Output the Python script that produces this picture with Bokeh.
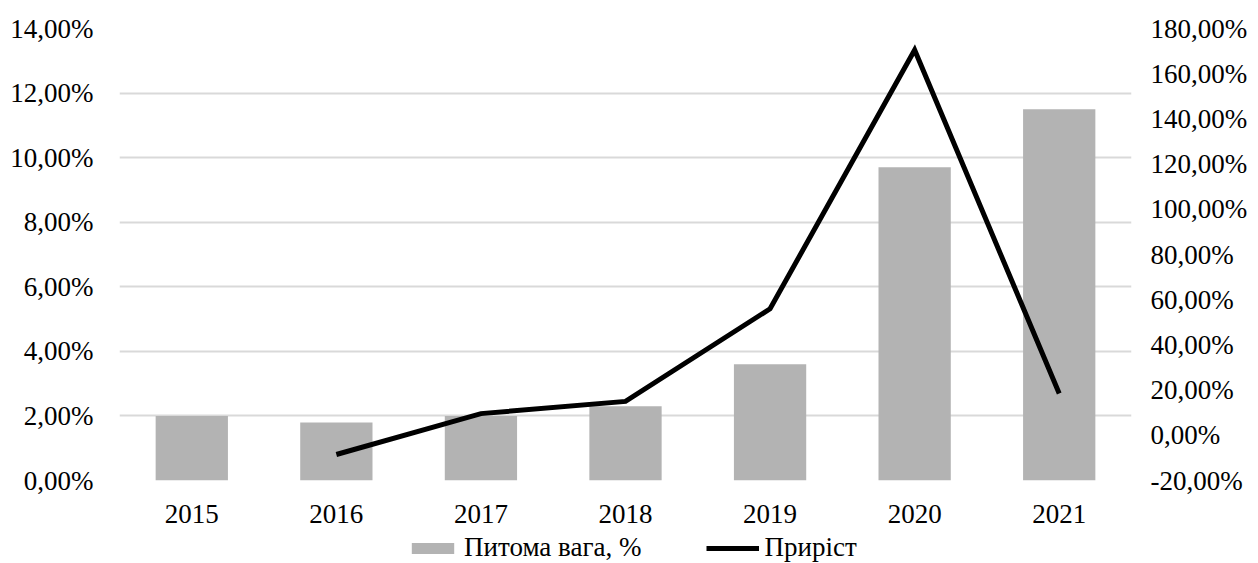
from bokeh.plotting import figure
from bokeh.layouts import column
from bokeh.models import (Range1d, LinearAxis, FixedTicker,
                          CustomJSTickFormatter, Legend, LegendItem, FactorRange)
from bokeh.embed import file_html
from bokeh.resources import INLINE

years = ["2015", "2016", "2017", "2018", "2019", "2020", "2021"]
share = [2.0, 1.8, 2.0, 2.3, 3.6, 9.7, 11.5]          # Питома вага, %
growth_years = ["2016", "2017", "2018", "2019", "2020", "2021"]
growth = [-8.5, 9.6, 15.0, 56.0, 170.5, 18.5]          # Приріст, %

left_ticks = [0, 2, 4, 6, 8, 10, 12, 14]
right_ticks = [-20, 0, 20, 40, 60, 80, 100, 120, 140, 160, 180]
series_names = ["Питома вага, %", "Приріст"]

FONT = "Liberation Serif"
FS = "27px"
BAR_COLOR = "#b3b3b3"

p = figure(x_range=FactorRange(*years), y_range=Range1d(0, 14),
           width=1250, height=530, output_backend="svg", toolbar_location=None,
           min_border_left=119, min_border_right=116, min_border_top=28,
           min_border_bottom=50)
p.extra_y_ranges = {"r": Range1d(-20, 180)}
p.outline_line_color = None

fmt = CustomJSTickFormatter(code="return tick.toFixed(2).replace('.', ',') + '%';")

p.vbar(x=years, top=share, width=0.5, fill_color=BAR_COLOR, line_color=None)
p.line(x=growth_years, y=growth, y_range_name="r", line_color="black",
       line_width=5, line_join="miter")

# Axes
p.yaxis.ticker = FixedTicker(ticks=left_ticks)
p.yaxis.formatter = fmt
p.yaxis.axis_line_color = None
p.yaxis.major_tick_line_color = None
p.yaxis.minor_tick_line_color = None
p.yaxis.major_label_text_font = FONT
p.yaxis.major_label_text_font_size = FS
p.yaxis.major_label_text_color = "#000000"
p.yaxis.major_label_standoff = 20

raxis = LinearAxis(y_range_name="r", ticker=FixedTicker(ticks=right_ticks), formatter=fmt)
raxis.axis_line_color = None
raxis.major_tick_line_color = None
raxis.minor_tick_line_color = None
raxis.major_label_text_font = FONT
raxis.major_label_text_font_size = FS
raxis.major_label_text_color = "#000000"
raxis.major_label_standoff = 13
p.add_layout(raxis, "right")

p.xaxis.axis_line_color = None
p.xaxis.major_tick_line_color = None
p.xaxis.major_label_text_font = FONT
p.xaxis.major_label_text_font_size = FS
p.xaxis.major_label_text_color = "#000000"
p.xaxis.major_label_standoff = 18

p.xgrid.grid_line_color = None
p.ygrid.ticker = FixedTicker(ticks=left_ticks)
p.ygrid.grid_line_color = "#d9d9d9"
p.ygrid.grid_line_width = 2

# Legend strip (separate figure below the chart); its proxy glyphs lie outside
# the visible range, only their legend swatches are shown.
lg = figure(width=1250, height=33, output_backend="svg", toolbar_location=None,
            x_range=Range1d(0, 1), y_range=Range1d(0, 1),
            min_border=0, min_border_left=119, min_border_right=116)
lg.axis.visible = False
lg.grid.visible = False
lg.outline_line_color = None
r_bar = lg.vbar(x=[-5], top=[-5], bottom=[-6], width=0.5,
                fill_color=BAR_COLOR, line_color=None)
r_line = lg.line(x=[-6, -5], y=[-6, -5], line_color="black", line_width=5)

legend = Legend(items=[LegendItem(label=series_names[0], renderers=[r_bar]),
                       LegendItem(label=series_names[1], renderers=[r_line])],
                orientation="horizontal", location=(287, 0),
                label_text_font=FONT, label_text_font_size=FS,
                label_text_color="#000000", glyph_width=53, glyph_height=14,
                label_standoff=5, spacing=65, border_line_color=None,
                background_fill_alpha=0, padding=0, margin=0)
lg.add_layout(legend, "center")

layout = column(p, lg, spacing=0)
open("out.html", "w").write(file_html(layout, INLINE))
